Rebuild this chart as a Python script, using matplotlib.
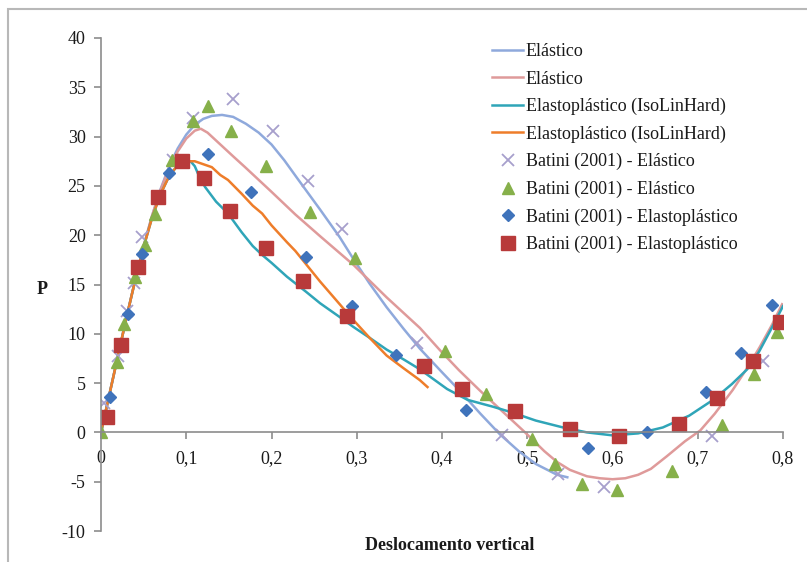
import matplotlib
matplotlib.use("Agg")
import matplotlib.pyplot as plt
from matplotlib.patches import Rectangle
from matplotlib.ticker import FuncFormatter

plt.rcParams["font.family"] = ["Liberation Serif", "DejaVu Serif"]

# Numerical curves (displacement, load)
elastico_a_x = [0, 0.01, 0.02, 0.03, 0.04, 0.05, 0.06, 0.07, 0.08, 0.09, 0.10, 0.11, 0.12,
                0.13, 0.142, 0.155, 0.17, 0.185, 0.2, 0.215, 0.23, 0.257, 0.28, 0.296, 0.315,
                0.335, 0.355, 0.374, 0.40, 0.421, 0.445, 0.468, 0.49, 0.51, 0.535, 0.547]
elastico_a_y = [0, 3.9, 7.8, 11.7, 15.4, 18.9, 22.0, 24.7, 27.0, 28.8, 30.2, 31.2, 31.8,
                32.1, 32.2, 32.0, 31.3, 30.4, 29.2, 27.6, 25.8, 22.6, 19.8, 17.6, 15.1,
                12.7, 10.5, 8.5, 6.1, 4.2, 1.9, -0.2, -1.9, -3.2, -4.3, -4.55]

elastico_b_x = [0, 0.01, 0.02, 0.03, 0.04, 0.05, 0.06, 0.07, 0.08, 0.09, 0.10, 0.11, 0.117,
                0.125, 0.14, 0.155, 0.169, 0.2, 0.228, 0.257, 0.296, 0.335, 0.374, 0.398,
                0.42, 0.445, 0.465, 0.48, 0.495, 0.507, 0.52, 0.535, 0.55, 0.57, 0.585, 0.6,
                0.615, 0.63, 0.645, 0.664, 0.685, 0.703, 0.72, 0.741, 0.76, 0.773, 0.787, 0.799]
elastico_b_y = [0, 3.9, 7.8, 11.7, 15.4, 18.9, 22.0, 24.6, 26.8, 28.5, 29.8, 30.6, 30.8,
                30.4, 29.2, 28.0, 26.9, 24.4, 22.1, 19.9, 17.0, 13.7, 10.6, 8.3,
                6.3, 4.2, 2.6, 1.4, 0.2, -0.8, -1.9, -3.0, -3.8, -4.45, -4.65, -4.75,
                -4.65, -4.3, -3.7, -2.4, -0.9, 0.2, 1.9, 4.3, 6.8, 8.7, 10.9, 13.0]

isolin_a_x = [0, 0.01, 0.02, 0.03, 0.04, 0.05, 0.06, 0.07, 0.08, 0.09, 0.10, 0.105, 0.11,
              0.116, 0.122, 0.135, 0.149, 0.165, 0.178, 0.189, 0.2, 0.218, 0.24, 0.257,
              0.28, 0.296, 0.315, 0.335, 0.355, 0.374, 0.39, 0.406, 0.43, 0.46, 0.483,
              0.51, 0.542, 0.57, 0.6, 0.63, 0.659, 0.69, 0.718, 0.74, 0.758, 0.772, 0.785, 0.8]
isolin_a_y = [0, 3.9, 7.8, 11.7, 15.4, 18.8, 21.8, 24.2, 26.0, 27.1, 27.5, 27.5, 27.0,
              25.8, 24.9, 23.4, 22.2, 20.3, 18.9, 18.0, 17.2, 15.8, 14.3, 13.1,
              11.7, 10.7, 9.6, 8.4, 7.4, 6.4, 5.4, 4.4, 3.3, 2.6, 2.0,
              1.2, 0.5, 0.0, -0.3, -0.1, 0.5, 1.7, 3.3, 4.9, 6.4, 8.2, 10.3, 12.8]

isolin_b_x = [0, 0.01, 0.02, 0.03, 0.04, 0.05, 0.06, 0.07, 0.08, 0.09, 0.10, 0.11, 0.12,
              0.13, 0.14, 0.149, 0.165, 0.178, 0.189, 0.2, 0.218, 0.228, 0.257, 0.28,
              0.296, 0.315, 0.335, 0.355, 0.374, 0.383]
isolin_b_y = [0, 3.9, 7.8, 11.7, 15.4, 18.8, 21.8, 24.2, 26.0, 27.1, 27.5, 27.5, 27.2,
              26.9, 26.1, 25.6, 24.2, 23.0, 22.2, 21.0, 19.3, 18.4, 15.3, 13.0,
              11.4, 9.6, 7.8, 6.5, 5.3, 4.6]

# Reference results, Batini (2001)
batini_el_x_x = [0.003, 0.020, 0.030, 0.039, 0.048, 0.084, 0.108, 0.155, 0.202, 0.243,
                 0.283, 0.371, 0.470, 0.536, 0.590, 0.717, 0.777]
batini_el_x_y = [3.0, 7.7, 12.3, 15.2, 19.8, 27.6, 31.9, 33.8, 30.6, 25.5,
                 20.6, 9.1, -0.3, -4.2, -5.5, -0.4, 7.2]

batini_el_t_x = [0.0, 0.019, 0.027, 0.040, 0.052, 0.063, 0.083, 0.108, 0.126, 0.152,
                 0.194, 0.245, 0.298, 0.404, 0.452, 0.506, 0.533, 0.564, 0.605, 0.670,
                 0.728, 0.766, 0.793]
batini_el_t_y = [0.0, 7.1, 11.0, 15.8, 19.0, 22.1, 27.6, 31.6, 33.1, 30.6,
                 27.0, 22.4, 17.7, 8.3, 3.85, -0.7, -3.2, -5.2, -5.8, -3.9,
                 0.8, 5.9, 10.2]

batini_ep_d_x = [0.011, 0.032, 0.048, 0.080, 0.126, 0.176, 0.240, 0.294, 0.346, 0.428,
                 0.571, 0.640, 0.710, 0.751, 0.787]
batini_ep_d_y = [3.6, 12.0, 18.1, 26.3, 28.2, 24.4, 17.8, 12.8, 7.9, 2.3,
                 -1.6, 0.0, 4.1, 8.1, 12.9]

batini_ep_s_x = [0.007, 0.023, 0.043, 0.067, 0.095, 0.121, 0.151, 0.194, 0.237, 0.289,
                 0.379, 0.423, 0.486, 0.550, 0.608, 0.678, 0.723, 0.765, 0.797]
batini_ep_s_y = [1.6, 8.9, 16.8, 23.9, 27.5, 25.8, 22.5, 18.7, 15.4, 11.8,
                 6.7, 4.45, 2.2, 0.3, -0.4, 0.9, 3.5, 7.2, 11.2]

labels = ["Elástico", "Elástico",
          "Elastoplástico (IsoLinHard)", "Elastoplástico (IsoLinHard)",
          "Batini (2001) - Elástico", "Batini (2001) - Elástico",
          "Batini (2001) - Elastoplástico", "Batini (2001) - Elastoplástico"]

x_ticks = [0, 0.1, 0.2, 0.3, 0.4, 0.5, 0.6, 0.7, 0.8]
y_ticks = [-10, -5, 0, 5, 10, 15, 20, 25, 30, 35, 40]

fig = plt.figure(figsize=(8.07, 5.62), dpi=100)
ax = fig.add_axes([101 / 807, 1 - 531 / 562, 682 / 807, 493 / 562])

lw = 1.8
h = []
h += ax.plot(elastico_a_x, elastico_a_y, color="#8fa9dc", lw=lw, label=labels[0])
h += ax.plot(elastico_b_x, elastico_b_y, color="#df9a9a", lw=lw, label=labels[1])
h += ax.plot(isolin_a_x, isolin_a_y, color="#2fa5b8", lw=lw, label=labels[2])
h += ax.plot(isolin_b_x, isolin_b_y, color="#ee7d2a", lw=lw, label=labels[3])
h += ax.plot(batini_el_x_x, batini_el_x_y, ls="none", marker="x", ms=9, mew=1.3,
             color="#a79fcc", label=labels[4])
h += ax.plot(batini_el_t_x, batini_el_t_y, ls="none", marker="^", ms=9,
             color="#86b04a", label=labels[5])
h += ax.plot(batini_ep_d_x, batini_ep_d_y, ls="none", marker="D", ms=6.5,
             color="#3f73bb", label=labels[6])
h += ax.plot(batini_ep_s_x, batini_ep_s_y, ls="none", marker="s", ms=9.5,
             color="#b83a3a", label=labels[7])

ax.set_xlim(0, 0.8)
ax.set_ylim(-10, 40)
ax.set_xticks(x_ticks)
ax.set_yticks(y_ticks)
ax.xaxis.set_major_formatter(FuncFormatter(lambda v, p: ("%g" % round(v, 2)).replace(".", ",")))
ax.yaxis.set_major_formatter(FuncFormatter(lambda v, p: "%d" % v))

for s in ["top", "right"]:
    ax.spines[s].set_visible(False)
ax.spines["bottom"].set_position(("data", 0))
axis_col = "#8c8c8c"
for s in ["left", "bottom"]:
    ax.spines[s].set_color(axis_col)
    ax.spines[s].set_linewidth(1.2)

ax.tick_params(axis="both", direction="out", color=axis_col, length=5, width=1.2,
               labelsize=13, labelcolor="#1a1a1a")
ax.tick_params(axis="x", pad=8)
ax.tick_params(axis="y", pad=6)

fig.text(450 / 807, 1 - 545 / 562, "Deslocamento vertical", ha="center", va="center",
         fontsize=13, fontweight="bold", color="#1a1a1a")
fig.text(42 / 807, 1 - 290 / 562, "P", ha="center", va="center",
         fontsize=13, fontweight="bold", color="#1a1a1a")

fig.legend(handles=h, labels=labels, loc="upper left",
           bbox_to_anchor=(476 / 807, 1 - 27 / 562), frameon=False, fontsize=13,
           handlelength=1.7, handletextpad=0.15, labelspacing=0.57, borderpad=0.4,
           labelcolor="#1a1a1a")

fig.patches.append(Rectangle((8 / 807, -0.05), 1.2, 1 - 9 / 562 + 0.05,
                             transform=fig.transFigure, fill=False,
                             edgecolor="#b8b8b8", lw=1.5))

fig.savefig("out.png", dpi=100)
